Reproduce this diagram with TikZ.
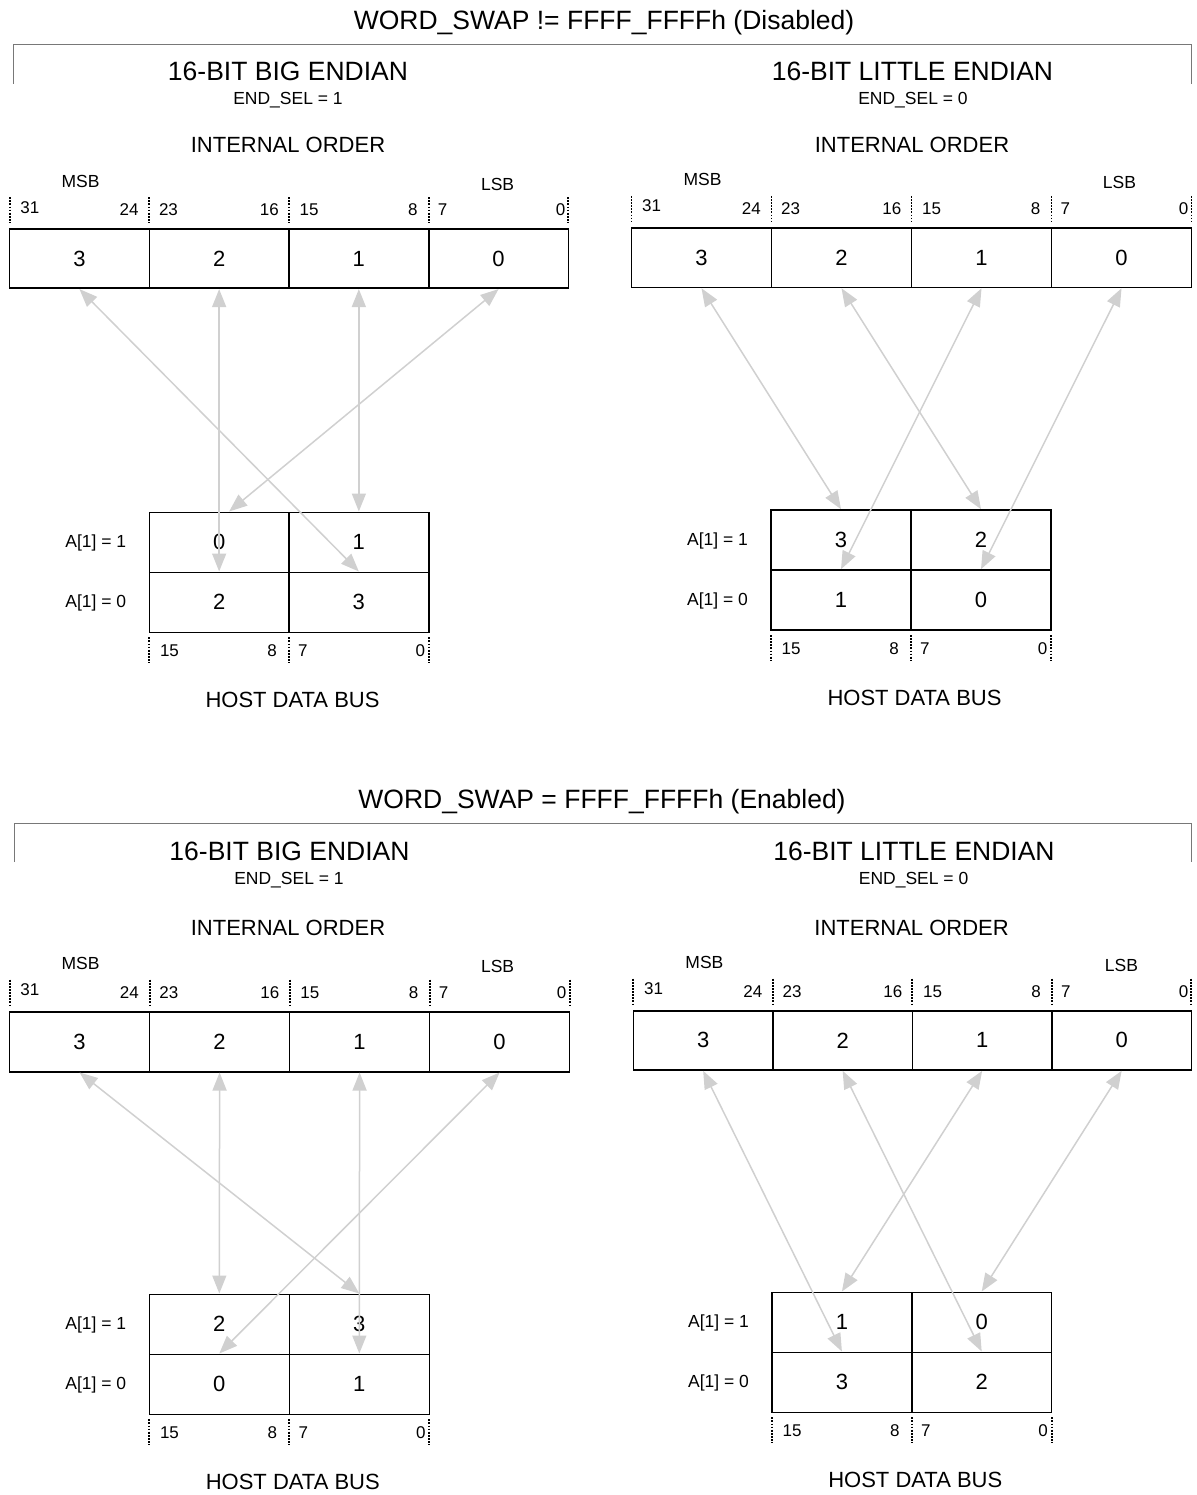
\documentclass[tikz,border=0pt]{standalone}
\usepackage{fontspec}
\setmainfont{Liberation Sans}
\usetikzlibrary{arrows.meta,calc}
\definecolor{arrowgray}{RGB}{208,208,208}
\definecolor{bracketgray}{RGB}{120,120,120}
\tikzset{
  cell/.style={draw=black, line width=1.6pt, inner sep=0pt, font=\fontsize{22}{24}\selectfont},
  biarrow/.style={draw=arrowgray, line width=1.5pt, {Triangle[length=18pt,width=14pt]}-{Triangle[length=18pt,width=14pt]}},
  bittick/.style={draw=black, line width=1.9pt, dash pattern=on 1.8pt off 1.3pt},
  bitlbl/.style={inner sep=0pt, font=\fontsize{17}{19}\selectfont},
  smalllbl/.style={inner sep=0pt, font=\fontsize{17.5}{20}\selectfont},
  midlbl/.style={inner sep=0pt, font=\fontsize{22}{24}\selectfont},
  biglbl/.style={inner sep=0pt, font=\fontsize{26.5}{30}\selectfont},
  bracket/.style={draw=bracketgray, line width=1pt},
}
% #1 prefix, #2 x0, #3 ytop, #4 cell width, #5 cell height
\newcommand\TopRow[5]{%
  \foreach \i/\v in {0/3,1/2,2/1,3/0}{%
    \node[cell, minimum width=#4pt, minimum height=#5pt] (#1T\v) at ({#2+(\i+0.5)*#4},{#3+0.5*#5}) {\v};
  }
  \foreach \i in {0,...,4}{\draw[bittick] ({#2+\i*#4},{#3-32}) -- ({#2+\i*#4},{#3-6.5});}
  \node[bitlbl, anchor=base west] (#1n31) at ({#2+10.5},{#3-16}) {31};
  \node[bitlbl, anchor=base east] (#1n24) at ({#2+#4-10.5},{#3-13.5}) {24};
  \node[bitlbl, anchor=base west] (#1n23) at ({#2+#4+9.5},{#3-13.5}) {23};
  \node[bitlbl, anchor=base east] (#1n16) at ({#2+2*#4-10},{#3-13.5}) {16};
  \node[bitlbl, anchor=base west] (#1n15) at ({#2+2*#4+10.5},{#3-13.5}) {15};
  \node[bitlbl, anchor=base east] (#1n8) at ({#2+3*#4-11},{#3-13.5}) {8};
  \node[bitlbl, anchor=base west] (#1n7) at ({#2+3*#4+9},{#3-13.5}) {7};
  \node[bitlbl, anchor=base east] (#1n0) at ({#2+4*#4-3},{#3-13.5}) {0};
  \node[smalllbl, anchor=base] (#1msb) at ({#2+71},{#3-42}) {MSB};
  \node[smalllbl, anchor=base] (#1lsb) at ({#2+488},{#3-39}) {LSB};
}
% #1 prefix, #2 x0, #3 ytop, #4 w, #5 h, #6 tl, #7 tr, #8 bl, #9 br
\newcommand\BotBox[9]{%
  \node[cell, minimum width=#4pt, minimum height=#5pt] (#1B#6) at ({#2+0.5*#4},{#3+0.5*#5}) {#6};
  \node[cell, minimum width=#4pt, minimum height=#5pt] (#1B#7) at ({#2+1.5*#4},{#3+0.5*#5}) {#7};
  \node[cell, minimum width=#4pt, minimum height=#5pt] (#1B#8) at ({#2+0.5*#4},{#3+1.5*#5}) {#8};
  \node[cell, minimum width=#4pt, minimum height=#5pt] (#1B#9) at ({#2+1.5*#4},{#3+1.5*#5}) {#9};
  \node[smalllbl, anchor=base] (#1A1) at ({#2-53.5},{#3+35}) {A[1] = 1};
  \node[smalllbl, anchor=base] (#1A0) at ({#2-53.5},{#3+#5+35}) {A[1] = 0};
  \foreach \i in {0,1,2}{\draw[bittick] ({#2+\i*#4},{#3+2*#5+5}) -- ({#2+\i*#4},{#3+2*#5+31});}
  \node[bitlbl, anchor=base west] (#1m15) at ({#2+10.5},{#3+2*#5+24}) {15};
  \node[bitlbl, anchor=base east] (#1m8) at ({#2+#4-12},{#3+2*#5+24}) {8};
  \node[bitlbl, anchor=base west] (#1m7) at ({#2+#4+9},{#3+2*#5+24}) {7};
  \node[bitlbl, anchor=base east] (#1m0) at ({#2+2*#4-3.5},{#3+2*#5+24}) {0};
  \node[midlbl, anchor=base] (#1host) at ({#2+#4+3.5},{#3+2*#5+75}) {HOST DATA BUS};
}
\begin{document}
\begin{tikzpicture}[x=1pt,y=-1pt]
\useasboundingbox (0,0) rectangle (1196,1495);

% ---------- Section 1: disabled ----------
\node[biglbl, anchor=base] (t1) at (604,30) {WORD\_SWAP != FFFF\_FFFFh (Disabled)};
\draw[bracket] (13,84) -- (13,45) -- (1191,45) -- (1191,84);
\node[biglbl, anchor=base] (h1l) at (288,81) {16-BIT BIG ENDIAN};
\node[smalllbl, anchor=base] (e1l) at (288,105) {END\_SEL = 1};
\node[midlbl, anchor=base] (i1l) at (288,153) {INTERNAL ORDER};
\node[biglbl, anchor=base] (h1r) at (912.5,81) {16-BIT LITTLE ENDIAN};
\node[smalllbl, anchor=base] (e1r) at (913,105) {END\_SEL = 0};
\node[midlbl, anchor=base] (i1r) at (912,153) {INTERNAL ORDER};

\TopRow{a}{9.6}{229.3}{139.7}{59}
\TopRow{b}{631.5}{228}{140}{59.5}
\BotBox{a}{149.3}{512.3}{139.7}{60}{0}{1}{2}{3}
\BotBox{b}{771}{510}{140}{60}{3}{2}{1}{0}

% ---------- Section 2: enabled ----------
\node[biglbl, anchor=base] (t2) at (602,808) {WORD\_SWAP = FFFF\_FFFFh (Enabled)};
\draw[bracket] (14,862) -- (14,823) -- (1191,823) -- (1191,862);
\node[biglbl, anchor=base] (h2l) at (289.5,860) {16-BIT BIG ENDIAN};
\node[smalllbl, anchor=base] (e2l) at (289,884) {END\_SEL = 1};
\node[midlbl, anchor=base] (i2l) at (288,935) {INTERNAL ORDER};
\node[biglbl, anchor=base] (h2r) at (914,860) {16-BIT LITTLE ENDIAN};
\node[smalllbl, anchor=base] (e2r) at (913.6,884) {END\_SEL = 0};
\node[midlbl, anchor=base] (i2r) at (911.6,935) {INTERNAL ORDER};

\TopRow{c}{9.6}{1011.7}{140}{60}
\TopRow{d}{633.4}{1010.7}{139.5}{59.3}
\BotBox{c}{149.3}{1294.3}{140}{60}{2}{3}{0}{1}
\BotBox{d}{772}{1292.3}{139.8}{60}{1}{0}{3}{2}

% ---------- arrows ----------
\draw[biarrow] (aT3.south) -- (aB3.north);
\draw[biarrow] (aT2.south) -- (aB2.north);
\draw[biarrow] (aT1.south) -- (aB1.north);
\draw[biarrow] (aT0.south) -- ($(aB0.north)+(10,0)$);

\draw[biarrow] (bT3.south) -- (bB3.north);
\draw[biarrow] (bT2.south) -- (bB2.north);
\draw[biarrow] (bT1.south) -- (bB1.north);
\draw[biarrow] (bT0.south) -- (bB0.north);

\draw[biarrow] (cT3.south) -- (cB3.north);
\draw[biarrow] (cT2.south) -- (cB2.north);
\draw[biarrow] (cT1.south) -- (cB1.north);
\draw[biarrow] (cT0.south) -- (cB0.north);

\draw[biarrow] (dT3.south) -- (dB3.north);
\draw[biarrow] (dT2.south) -- (dB2.north);
\draw[biarrow] (dT1.south) -- (dB1.north);
\draw[biarrow] (dT0.south) -- (dB0.north);
\end{tikzpicture}
\end{document}
